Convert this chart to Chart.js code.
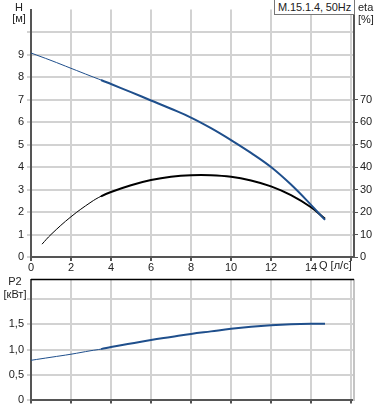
<!DOCTYPE html>
<html>
<head>
<meta charset="utf-8">
<script src="https://cdn.jsdelivr.net/npm/chart.js@4/dist/chart.umd.min.js"></script>
<style>
  body { margin:0; background:#fff; width:378px; height:410px; overflow:hidden; position:relative;
         font-family:"Liberation Sans", Arial, sans-serif; font-size:11px; color:#222; }
  canvas { position:absolute; left:0; }
  .lbl { position:absolute; white-space:nowrap; line-height:11px; }
  .c { text-align:center; }
  #legend { position:absolute; left:274px; top:-1px; width:79px; height:14px; border:1px solid #777;
            background:#fff; text-align:center; line-height:15px; letter-spacing:-0.1px; }
</style>
</head>
<body>
<canvas id="top" width="378" height="275" style="top:0"></canvas>
<canvas id="bottom" width="378" height="140" style="top:270px"></canvas>

<div class="lbl c" style="left:9px;top:2px;width:20px">H</div>
<div class="lbl c" style="left:9px;top:13px;width:20px">[м]</div>
<div class="lbl" style="left:358px;top:2px">eta</div>
<div class="lbl" style="left:358px;top:14px">[%]</div>
<div class="lbl" style="left:319px;top:260px">Q [л/с]</div>
<div class="lbl c" style="left:2px;top:276px;width:26px">P2</div>
<div class="lbl c" style="left:1px;top:289px;width:28px">[кВт]</div>
<div id="legend">M.15.1.4, 50Hz</div>

<script>
// ---- data ----
const qH   = [0, 1, 2, 3, 3.5, 4, 5, 6, 7, 8, 9, 10, 11, 12, 13, 14, 14.7];
const head = [9.07, 8.74, 8.39, 8.04, 7.87, 7.69, 7.33, 6.96, 6.59, 6.2, 5.73, 5.2, 4.63, 4.0, 3.22, 2.32, 1.65];

const qEta = [0.55, 1, 2, 3, 3.5, 4, 5, 6, 7, 8, 9, 10, 11, 12, 13, 14, 14.7];
const eta  = [5.7, 10.0, 17.9, 24.4, 27.0, 28.9, 31.9, 34.2, 35.7, 36.4, 36.4, 35.7, 34.0, 31.4, 27.5, 22.1, 17.0];

const qP = [0, 1, 2, 3, 3.5, 4, 5, 6, 7, 8, 9, 10, 11, 12, 13, 14, 14.7];
const p2 = [0.79, 0.85, 0.91, 0.98, 1.01, 1.05, 1.12, 1.19, 1.25, 1.31, 1.36, 1.41, 1.45, 1.48, 1.50, 1.51, 1.51];

const qTicks   = [0, 2, 4, 6, 8, 10, 12, 14, 16];
const qLabels  = ['0', '2', '4', '6', '8', '10', '12', '14', ''];
const hTicks   = [0, 1, 2, 3, 4, 5, 6, 7, 8, 9, 10, 11];
const hLabels  = ['0', '1', '2', '3', '4', '5', '6', '7', '8', '9', '', ''];
const etaTicks = [0, 10, 20, 30, 40, 50, 60, 70];
const pTicks   = [0, 0.5, 1, 1.5, 2];
const pLabels  = ['0', '0,5', '1,0', '1,5', ''];

const THIN_UNTIL = 3.5;
const GRID = '#d2d2d2';
const AXIS = '#555';
const FONT = { family: '"Liberation Sans", Arial, sans-serif', size: 11 };

const pts = (xs, ys) => xs.map((x, i) => ({ x, y: ys[i] }));
const setTicks = vals => s => { s.ticks = vals.map(v => ({ value: v })); };
const fixW = w => s => { s.width = w; };
const fixH = h => s => { s.height = h; };
const thinThick = { borderWidth: c => c.p1.parsed.x <= THIN_UNTIL ? 1 : 2 };

function line(data, color, axis) {
  return {
    data, yAxisID: axis, borderColor: color, borderWidth: 2,
    pointRadius: 0, tension: 0.4, fill: false,
    segment: thinThick
  };
}

Chart.defaults.font = FONT;
Chart.defaults.color = '#222';
Chart.defaults.animation = false;

/* ---------- top: H and eta ---------- */
new Chart(document.getElementById('top'), {
  type: 'line',
  data: { datasets: [
    line(pts(qH, head), '#1f4f8c', 'y'),
    line(pts(qEta, eta), '#000', 'y1')
  ]},
  options: {
    responsive: false,
    layout: { padding: 0 },
    plugins: { legend: { display: false }, tooltip: { enabled: false } },
    scales: {
      x: {
        type: 'linear', min: 0, max: 16.15,
        afterBuildTicks: setTicks(qTicks), afterFit: fixH(18),
        ticks: { callback: (v, i) => qLabels[i], padding: 0, maxRotation: 0, autoSkip: false },
        grid: { color: GRID, lineWidth: 2, tickLength: 4, tickColor: AXIS },
        border: { color: AXIS, width: 2 }
      },
      y: {
        min: 0, max: 11,
        afterBuildTicks: setTicks(hTicks), afterFit: fixW(31),
        ticks: { callback: (v, i) => hLabels[i], padding: 3, autoSkip: false },
        grid: { color: c => c.tick && c.tick.value === 11 ? 'rgba(0,0,0,0)' : GRID,
                lineWidth: 2, tickLength: 4 },
        border: { color: AXIS, width: 2 }
      },
      y1: {
        position: 'right', min: 0, max: 110,
        afterBuildTicks: setTicks(etaTicks), afterFit: fixW(24),
        ticks: { padding: 2, autoSkip: false },
        grid: { drawOnChartArea: false, tickLength: 4, color: AXIS },
        border: { color: AXIS, width: 2 }
      }
    }
  }
});

/* ---------- bottom: P2 ---------- */
const topBorder = {
  id: 'topBorder',
  afterDraw(chart) {
    const { ctx, chartArea: a } = chart;
    ctx.save();
    ctx.strokeStyle = '#000';
    ctx.lineWidth = 1.5;
    ctx.beginPath();
    ctx.moveTo(a.left, a.top);
    ctx.lineTo(a.right, a.top);
    ctx.stroke();
    ctx.restore();
  }
};

new Chart(document.getElementById('bottom'), {
  type: 'line',
  data: { datasets: [ line(pts(qP, p2), '#1f4f8c', 'y') ] },
  options: {
    responsive: false,
    layout: { padding: { top: 4 } },
    plugins: { legend: { display: false }, tooltip: { enabled: false } },
    scales: {
      x: {
        type: 'linear', min: 0, max: 16.15,
        afterBuildTicks: setTicks(qTicks), afterFit: fixH(9),
        ticks: { display: false },
        grid: { color: GRID, lineWidth: 2, tickLength: 3, tickColor: AXIS },
        border: { color: AXIS, width: 2 }
      },
      y: {
        min: 0, max: 2.38,
        afterBuildTicks: setTicks(pTicks), afterFit: fixW(31),
        ticks: { callback: (v, i) => pLabels[i], padding: 3, autoSkip: false },
        grid: { color: GRID, lineWidth: 2, tickLength: 4 },
        border: { color: AXIS, width: 2 }
      },
      y1: {
        position: 'right', min: 0, max: 2.38,
        afterBuildTicks: setTicks([]), afterFit: fixW(24),
        ticks: { display: false },
        grid: { drawOnChartArea: false, drawTicks: false },
        border: { color: '#c4c4c4', width: 2 }
      }
    }
  },
  plugins: [topBorder]
});
</script>
</body>
</html>
